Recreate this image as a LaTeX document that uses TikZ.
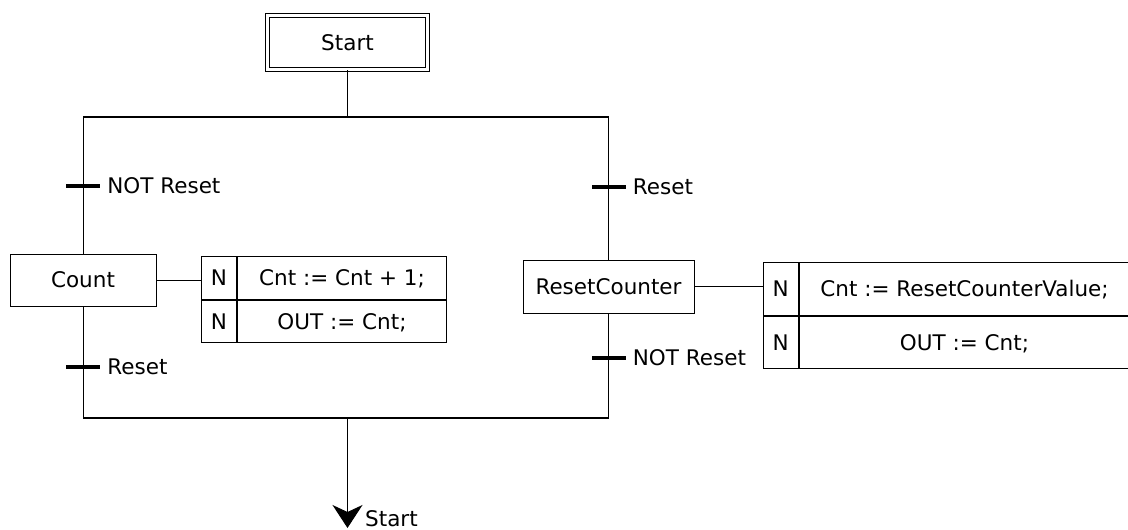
\documentclass[tikz,border=0pt]{standalone}
\usepackage{fontspec}
\setmainfont{DejaVu Sans}
\usetikzlibrary{arrows.meta, positioning}

\begin{document}
\begin{tikzpicture}[x=1pt, y=-1pt,
    every node/.style={font=\fontsize{21.5}{24}\selectfont},
    initstep/.style={rectangle, draw, double, double distance=2.5pt, line width=1pt, minimum width=160pt, minimum height=54pt, inner sep=0pt},
    stepbox/.style={rectangle, draw, line width=1pt, minimum height=52pt, inner sep=0pt, text height=15.5pt, text depth=0pt},
    qual/.style={rectangle, draw, line width=1pt, inner sep=0pt, text height=15.5pt, text depth=0pt},
    trans/.style={rectangle, fill=black, minimum width=34pt, minimum height=4pt, inner sep=0pt},
    cond/.style={anchor=west, inner sep=0pt, text height=15.5pt, text depth=0pt},
    wire/.style={line width=1pt},
    bar/.style={line width=2.5pt}
]
    \useasboundingbox (0,0) rectangle (1128,530);

    % Initial step
    \node[initstep] (start) at (347.5,42.5) {Start};

    % Divergence and convergence
    \coordinate (divL) at (83,117);
    \coordinate (divR) at (608.5,117);
    \coordinate (conL) at (83,418);
    \coordinate (conR) at (608.5,418);

    % Steps
    \node[stepbox, minimum width=146pt] (count) at (83,280) {Count};
    \node[stepbox, minimum width=171pt, minimum height=53pt] (rstcnt) at (608.5,286.5) {ResetCounter};

    % Actions
    \node[qual, minimum width=35pt, minimum height=42.5pt, anchor=north west] (q1) at (201,256) {N};
    \node[qual, minimum width=209pt, minimum height=42.5pt, right=0pt of q1] (a1) {Cnt := Cnt + 1;};
    \node[qual, minimum width=35pt, minimum height=42.5pt, below=0pt of q1] (q2) {N};
    \node[qual, minimum width=209pt, minimum height=42.5pt, right=0pt of q2] (a2) {OUT := Cnt;};

    \node[qual, minimum width=34.5pt, minimum height=52.5pt, anchor=north west] (q3) at (763,262) {N};
    \node[qual, minimum width=331pt, minimum height=52.5pt, right=0pt of q3] (a3) {Cnt := ResetCounterValue;};
    \node[qual, minimum width=34.5pt, minimum height=52.5pt, below=0pt of q3] (q4) {N};
    \node[qual, minimum width=331pt, minimum height=52.5pt, right=0pt of q4] (a4) {OUT := Cnt;};

    % Lines
    \draw[wire] (start) -- (start |- divL);
    \draw[bar] (divL) -- (divR);
    \draw[bar] (conL) -- (conR);
    \draw[wire] (divL) -- (count);
    \draw[wire] (count) -- (conL);
    \draw[wire] (divR) -- (rstcnt);
    \draw[wire] (rstcnt) -- (conR);
    \draw[wire] (count.east) -- (count.east -| q1.west);
    \draw[wire] (rstcnt.east) -- (rstcnt.east -| q3.west);

    % Transitions
    \node[trans] (t1) at (83,186) {};
    \node[cond, right=7pt of t1] (c1) {NOT Reset};
    \node[trans] (t2) at (83,367) {};
    \node[cond, right=7pt of t2] (c2) {Reset};
    \node[trans] (t3) at (608.5,187) {};
    \node[cond, right=7pt of t3] (c3) {Reset};
    \node[trans] (t4) at (608.5,358) {};
    \node[cond, right=7pt of t4] (c4) {NOT Reset};

    % Jump
    \coordinate (jump) at (347.5,528);
    \draw[wire, -{Stealth[length=23pt, width=30pt, inset=7pt]}] (start |- conL) -- (jump);
    \node[cond] (jlbl) at (365,518.5) {Start};
\end{tikzpicture}
\end{document}
